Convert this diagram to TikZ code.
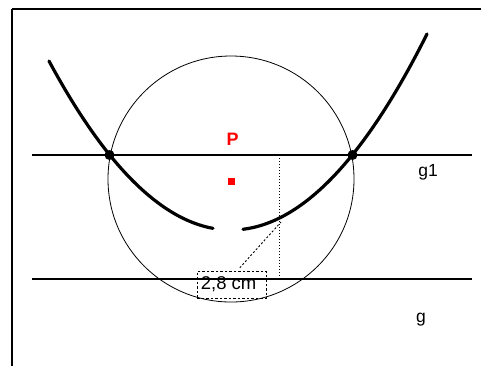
\documentclass[tikz,border=0pt]{standalone}
\usepackage{fontspec}
\setmainfont{Liberation Sans}
\begin{document}
\begin{tikzpicture}[x=1pt,y=-1pt,
  thinline/.style={line width=1.1pt},
  curve/.style={line width=3.2pt,line cap=round},
  ipt/.style={circle,fill=black,inner sep=0pt,minimum size=10pt},
  lbl/.style={font=\fontsize{17.5}{20}\selectfont,inner sep=0pt}]
\useasboundingbox (0,0) rectangle (481,365);
\fill[white] (0,0) rectangle (481,365);
\draw[line width=1.8pt] (12,9) -- (12,380) (12,9) -- (500,9);
% lines
\coordinate (g1a) at (32,155);
\coordinate (g1b) at (472,155);
\coordinate (ga) at (32,279);
\coordinate (gb) at (472,279);
\draw[thinline] (g1a) -- (g1b);
\draw[thinline] (ga) -- (gb);
% circle
\coordinate (M) at (231,179);
\draw[line width=0.8pt] (M) circle[radius=123];
% parabola
\draw[curve] plot[domain=49:213,samples=80] (\x,{230-((\x-231)/14)^2});
\draw[curve] plot[domain=243:427,samples=80] (\x,{230-((\x-231)/14)^2});
\node[ipt] (S1) at (109.5,155) {};
\node[ipt] (S2) at (352.5,155) {};
% P
\node[fill=red,minimum size=7pt,inner sep=0pt] (P) at (231,181) {};
\node[text=red,font=\fontsize{18}{20}\selectfont\bfseries,inner sep=0pt] (Plbl) at (232.5,139.5) {P};
% measurement
\coordinate (V1) at (279,155);
\coordinate (V2) at (279,279);
\draw[line width=1pt,dotted] (V1) -- (V2);
\node[draw,dash pattern=on 2.5pt off 2pt,line width=0.9pt,minimum width=69pt,minimum height=27pt,inner sep=0pt] (box) at (231.8,284.7) {};
\node[font=\fontsize{18.5}{20}\selectfont,inner sep=0pt] (boxtxt) at (228.6,284.5) {2,8 cm};
\coordinate (Q) at (281,222);
\draw[line width=0.9pt,dash pattern=on 2pt off 2pt] (box.north)++(8,-3) -- (Q);
% labels
\node[lbl] (g1) at (428,172) {g1};
\node[lbl] (g) at (421,320) {g};
\end{tikzpicture}
\end{document}
